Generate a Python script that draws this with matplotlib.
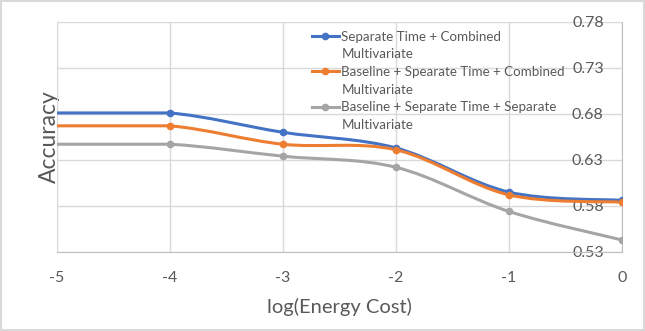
import numpy as np
import matplotlib.pyplot as plt
from matplotlib.path import Path
from matplotlib.patches import PathPatch
from matplotlib.lines import Line2D

plt.rcParams['font.family'] = ['Lato', 'DejaVu Sans']
plt.rcParams['axes.unicode_minus'] = False

log_cost = [-5, -4, -3, -2, -1, 0]
sep_time_comb = [0.681, 0.681, 0.660, 0.643, 0.595, 0.586]
base_sep_comb = [0.667, 0.667, 0.647, 0.641, 0.592, 0.584]
base_sep_sep = [0.647, 0.647, 0.634, 0.622, 0.574, 0.543]

labels = ["Separate Time + Combined\nMultivariate",
          "Baseline + Spearate Time + Combined\nMultivariate",
          "Baseline + Separate Time + Separate\nMultivariate"]
colors = ["#4472C4", "#ED7D31", "#A5A5A5"]
y_ticks = [0.53, 0.58, 0.63, 0.68, 0.73, 0.78]
x_ticks = [-5, -4, -3, -2, -1, 0]

text_col = "#595959"


def smooth_path(x, y):
    # excel-style smoothed line: cubic bezier through every point
    p = np.column_stack([x, y]).astype(float)
    ext = np.vstack([p[0], p, p[-1]])
    verts = [p[0]]
    codes = [Path.MOVETO]
    for i in range(len(p) - 1):
        c1 = p[i] + (ext[i + 2] - ext[i]) / 6
        c2 = p[i + 1] - (ext[i + 3] - ext[i + 1]) / 6
        if i == 0:
            c1 = p[i] + (p[i + 1] - p[i]) / 3
            c2 = p[i + 1] - (p[i + 1] - p[i]) / 3
        verts += [c1, c2, p[i + 1]]
        codes += [Path.CURVE4] * 3
    return Path(verts, codes)


fig = plt.figure(figsize=(6.45, 3.31), dpi=100)
fig.patch.set_edgecolor("#d9d9d9")
fig.patch.set_linewidth(1.5)
ax = fig.add_axes([0.088, 0.239, 0.876, 0.695])

# legend rows: handle on the first line of each label, wrapped line gets none
handles, leg_labels = [], []
for ys, c, lab in zip([sep_time_comb, base_sep_comb, base_sep_sep], colors, labels):
    ax.add_patch(PathPatch(smooth_path(log_cost, ys), fc="none", ec=c, lw=2.2,
                           capstyle="round", zorder=3))
    ax.plot(log_cost[1:], ys[1:], ls="none", marker="o", ms=4.5, color=c, zorder=4)
    first, second = lab.split("\n")
    handles.append(Line2D([], [], color=c, lw=2.2, marker="o", ms=4.5))
    leg_labels.append(first)
    handles.append(Line2D([], [], color="none"))
    leg_labels.append(second)

ax.set_xlim(-5, 0)
ax.set_ylim(0.53, 0.78)
ax.set_xticks(x_ticks)
ax.set_yticks(y_ticks)
ax.set_yticklabels([f"{v:.2f}" for v in y_ticks])
ax.grid(True, color="#d9d9d9", lw=1)
ax.set_axisbelow(True)

ax.yaxis.set_ticks_position("right")
ax.tick_params(axis="y", length=0, pad=-13, labelsize=11.5, labelcolor=text_col)
for t in ax.get_yticklabels():
    t.set_horizontalalignment("right")
ax.tick_params(axis="x", length=0, pad=14, labelsize=11.5, labelcolor=text_col)

ax.spines["top"].set_visible(False)
ax.spines["left"].set_color("#d9d9d9")
ax.spines["right"].set_color("#bfbfbf")
ax.spines["bottom"].set_color("#bfbfbf")

ax.set_xlabel("log(Energy Cost)", fontsize=14.5, color=text_col, labelpad=9)
ax.set_ylabel("Accuracy", fontsize=16.5, color=text_col, labelpad=-2)

leg = ax.legend(handles, leg_labels, loc="upper left", bbox_to_anchor=(0.44, 0.99),
                frameon=False, fontsize=9.6, handlelength=2.0, handletextpad=0.2,
                borderpad=0, labelspacing=0.42)
for t in leg.get_texts():
    t.set_color(text_col)

fig.savefig("out.png", dpi=100)
